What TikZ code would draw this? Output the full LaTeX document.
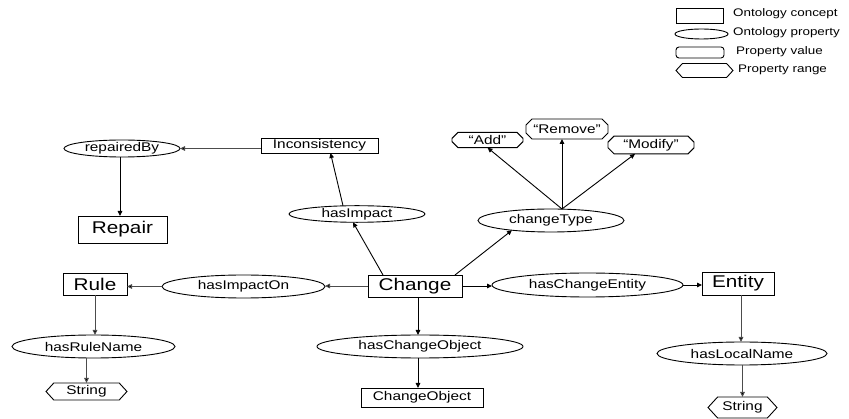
\documentclass[tikz,border=0pt]{standalone}
\usepackage{fontspec}
\setmainfont[FakeStretch=1.22]{Liberation Sans}
\usetikzlibrary{shapes.geometric,shapes.misc,shapes.symbols,arrows.meta}

\begin{document}
\begin{tikzpicture}[x=1pt,y=-1pt,
  base/.style={draw=black,line width=0.9pt,inner sep=0pt,outer sep=0pt,
    font=\fontsize{12.6}{14}\selectfont},
  concept/.style={base,rectangle},
  bigconcept/.style={base,rectangle,font=\fontsize{17}{19}\selectfont},
  prop/.style={base,ellipse},
  pvalue/.style={base,chamfered rectangle,chamfered rectangle xsep=3pt,
    chamfered rectangle ysep=3pt},
  prange/.style={base,signal,signal to=west and east,signal pointer angle=95},
  legendtext/.style={anchor=west,inner sep=0pt,font=\fontsize{11}{13}\selectfont},
  link/.style={line width=0.9pt,-{Triangle[length=5pt,width=4.5pt]}},
  greylink/.style={link,draw=black!70,-{Triangle[length=5pt,width=4.5pt,fill=black]}}
]
\useasboundingbox (0,0) rectangle (849,419);

% legend
\node[concept,minimum width=47pt,minimum height=15pt] (lgC) at (699.5,15.5) {};
\node[prop,minimum width=53pt,minimum height=10pt] (lgP) at (701.5,34) {};
\node[base,rectangle,rounded corners=3pt,minimum width=48pt,minimum height=11pt] (lgV) at (700,52.5) {};
\node[prange,minimum width=57pt,minimum height=14pt] (lgR) at (704.5,70.5) {};
\node[legendtext] (lgCt) at (733,14) {Ontology concept};
\node[legendtext] (lgPt) at (733,33) {Ontology property};
\node[legendtext] (lgVt) at (736,52) {Property value};
\node[legendtext] (lgRt) at (738,70) {Property range};

% concepts
\node[concept,minimum width=117pt,minimum height=15pt] (Inc) at (319.5,145.5) {Inconsistency};
\node[bigconcept,minimum width=89pt,minimum height=27pt] (Repair) at (122.5,229.5) {Repair};
\node[bigconcept,minimum width=64pt,minimum height=22pt] (Rule) at (95,284) {Rule};
\node[bigconcept,minimum width=94pt,minimum height=22pt] (Change) at (415,286) {Change};
\node[concept,minimum width=122pt,minimum height=19pt] (CObj) at (422,397.5) {ChangeObject};
\node[bigconcept,minimum width=72pt,minimum height=23pt] (Entity) at (738,283.5) {Entity};

% properties
\node[prop,minimum width=116pt,minimum height=17pt] (repBy) at (122,148.5) {repairedBy};
\node[prop,minimum width=136pt,minimum height=14pt] (hasImp) at (357,214) {hasImpact};
\node[prop,minimum width=146pt,minimum height=23pt] (cType) at (551,220.5) {changeType};
\node[prop,minimum width=163pt,minimum height=23pt] (hasImpOn) at (243.5,286.5) {hasImpactOn};
\node[prop,minimum width=163pt,minimum height=23pt] (hasRN) at (93.5,346.5) {hasRuleName};
\node[prop,minimum width=206pt,minimum height=23pt] (hasCO) at (420,346.5) {hasChangeObject};
\node[prop,minimum width=191pt,minimum height=24pt] (hasCE) at (587.5,285) {hasChangeEntity};
\node[prop,minimum width=170pt,minimum height=23pt] (hasLN) at (742,353.5) {hasLocalName};

% property values
\node[pvalue,minimum width=71pt,minimum height=14pt] (vAdd) at (487.5,140) {``Add''};
\node[pvalue,minimum width=82pt,minimum height=20pt] (vRem) at (567,129) {``Remove''};
\node[pvalue,minimum width=86pt,minimum height=16pt] (vMod) at (651,145) {``Modify''};

% property ranges
\node[prange,minimum width=81pt,minimum height=17pt] (str1) at (86.5,391.5) {String};
\node[prange,minimum width=69pt,minimum height=21pt] (str2) at (742.5,407.5) {String};

% connectors
\draw[greylink] (repBy.east -| Inc.west) -- (repBy.east);
\draw[link] ([xshift=-2pt]repBy.south) -- ([xshift=-2pt]repBy.south |- Repair.north);
\draw[link] ([xshift=-14pt]hasImp.north) -- ([xshift=11pt]Inc.south);
\draw[link] ([xshift=-32pt]Change.north) -- ([xshift=-4pt]hasImp.south);
\draw[link] ([xshift=-7pt]Change.north east) -- (cType.194);
\draw[link] ([xshift=11pt]cType.north) -- (vAdd.south);
\draw[link] ([xshift=11pt]cType.north) -- ([xshift=-5pt]vRem.south);
\draw[link] ([xshift=11pt]cType.north) -- ([xshift=-16pt]vMod.south);
\draw[greylink] (Change.west) -- (Change.west -| hasImpOn.east);
\draw[greylink] (hasImpOn.west) -- (hasImpOn.west -| Rule.east);
\draw[greylink] (Rule.south) -- (Rule.south |- hasRN.north);
\draw[greylink] (str1.north |- hasRN.south) -- (str1.north);
\draw[link] ([xshift=3pt]Change.south) -- ([xshift=3pt]Change.south |- hasCO.north);
\draw[link] ([xshift=-2pt]hasCO.south) -- ([xshift=-2pt]hasCO.south |- CObj.north);
\draw[link] (Change.east) -- (Change.east -| hasCE.west);
\draw[link] (hasCE.east) -- (hasCE.east -| Entity.west);
\draw[greylink] ([xshift=3pt]Entity.south) -- ([xshift=3pt]Entity.south |- hasLN.north);
\draw[greylink] (hasLN.south -| str2.north) -- (str2.north);
\end{tikzpicture}
\end{document}
